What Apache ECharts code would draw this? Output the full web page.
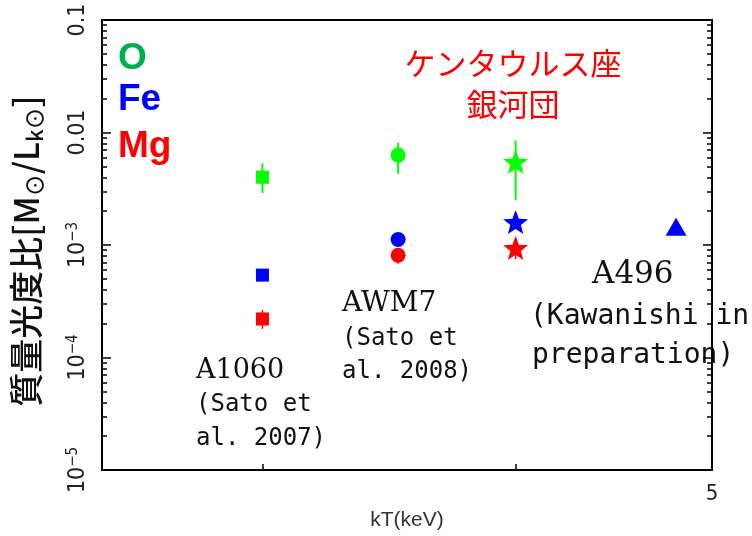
<!DOCTYPE html>
<html>
<head>
<meta charset="utf-8">
<script src="https://cdn.jsdelivr.net/npm/echarts@6/dist/echarts.min.js"></script>
<style>
  html, body { margin: 0; padding: 0; background: #fff; }
  #chart { width: 752px; height: 536px; }
</style>
</head>
<body>
<div id="chart"></div>
<script>
// Mass-to-light ratios of O, Fe and Mg against cluster temperature
const clusters = ['A1060', 'AWM7', 'Centaurus', 'A496'];
const kT = [3.0, 3.5, 4.0, 4.8];

const oxygen = [0.0040, 0.0063, 0.0055, null];
const oxygenLow = [0.0029, 0.0043, 0.0025, null];
const oxygenHigh = [0.0053, 0.0081, 0.0085, null];

const iron = [0.00054, 0.00112, 0.0016, 0.00145];

const magnesium = [0.00022, 0.00081, 0.00094, null];
const magnesiumLow = [0.00018, 0.00068, 0.00075, null];
const magnesiumHigh = [0.000265, 0.00091, 0.00115, null];

const xTicks = [3, 4, 5];
const xTickLabels = [5];
const yMajorTicks = [1e-5, 1e-4, 1e-3, 1e-2, 1e-1];
const yTickLabels = ['10^-5', '10^-4', '10^-3', '0.01', '0.1'];

// minor ticks at 2..9 within each decade
const yMinorTicks = [];
for (let e = -5; e < -1; e++) {
  for (let m = 2; m <= 9; m++) yMinorTicks.push(m * Math.pow(10, e));
}

// five-pointed star symbol
function starPath() {
  const pts = [];
  for (let i = 0; i < 10; i++) {
    const a = -Math.PI / 2 + i * Math.PI / 5;
    const r = i % 2 === 0 ? 50 : 21;
    pts.push((50 + r * Math.cos(a)).toFixed(2) + ' ' + (50 + r * Math.sin(a)).toFixed(2));
  }
  return 'path://M' + pts.join(' L') + ' Z';
}
const STAR = starPath();
const clusterSymbols = ['rect', 'circle', STAR, 'triangle'];
const clusterSizes = [13, 15, [25, 24], [21, 18]];

const GREEN = '#00ff00';
const BLUE = '#0000ff';
const RED = '#ff0000';
const NARROW = '"Liberation Sans Narrow", "DejaVu Sans Condensed", "Liberation Sans"';

function points(values) {
  const out = [];
  values.forEach((v, i) => {
    if (v != null) out.push({ value: [kT[i], v], symbol: clusterSymbols[i], symbolSize: clusterSizes[i] });
  });
  return out;
}
function bars(low, high) {
  const out = [];
  low.forEach((v, i) => { if (v != null) out.push([kT[i], low[i], high[i]]); });
  return out;
}
function errorSeries(low, high, color, width) {
  return {
    type: 'custom',
    z: 1,
    silent: true,
    data: bars(low, high),
    encode: { x: 0, y: [1, 2] },
    renderItem: function (params, api) {
      const p1 = api.coord([api.value(0), api.value(1)]);
      const p2 = api.coord([api.value(0), api.value(2)]);
      return {
        type: 'line',
        shape: { x1: p1[0], y1: p1[1], x2: p2[0], y2: p2[1] },
        style: { stroke: color, lineWidth: width }
      };
    }
  };
}

function yLabel(v) {
  const idx = yMajorTicks.findIndex(t => Math.abs(Math.log10(t) - Math.log10(v)) < 1e-6);
  if (idx < 0) return '';
  const s = yTickLabels[idx];
  if (s.indexOf('^') >= 0) {
    const parts = s.split('^');
    return '{b|' + parts[0] + '}{s|' + parts[1].replace('-', '\u2212') + '}';
  }
  return '{b|' + s + '}';
}

const labelRich = {
  b: { fontFamily: NARROW, fontSize: 23, color: '#222', lineHeight: 24 },
  s: { fontFamily: NARROW, fontSize: 15, color: '#222', verticalAlign: 'top', lineHeight: 15 }
};

function yAxisDef(position, ticks, length, withLabels) {
  return {
    type: 'log',
    logBase: 10,
    min: 1e-5,
    max: 0.1,
    position: position,
    axisLine: { show: true, lineStyle: { color: '#000', width: 2 } },
    axisTick: { show: true, inside: true, length: length, customValues: ticks, lineStyle: { color: '#000', width: 1.5 } },
    axisLabel: withLabels ? {
      show: true, rotate: 90, margin: 12, formatter: yLabel, rich: labelRich
    } : { show: false },
    splitLine: { show: false },
    minorTick: { show: false }
  };
}

const chart = echarts.init(document.getElementById('chart'));
const yLeft = yAxisDef('left', yMajorTicks, 9, true);
yLeft.name = '{t|質量光度比[M}{s|⊙}{t|/L}{s|k⊙}{t|]}';
yLeft.nameLocation = 'middle';
yLeft.nameRotate = 90;
yLeft.nameGap = 56;
yLeft.nameTextStyle = {
  padding: [0, 12, 0, 0],
  rich: {
    t: { fontFamily: 'Noto Sans CJK JP', fontWeight: 500, fontSize: 34, color: '#111', lineHeight: 40 },
    s: { fontFamily: 'Noto Sans CJK JP', fontWeight: 500, fontSize: 22, color: '#111', lineHeight: 26, verticalAlign: 'bottom' }
  }
};

chart.setOption({
  animation: false,
  grid: { left: 102, right: 40, top: 20, bottom: 61, show: true, borderColor: '#000', borderWidth: 2 },
  xAxis: {
    type: 'log',
    logBase: 10,
    min: 2.5,
    max: 5,
    name: 'kT(keV)',
    nameLocation: 'middle',
    nameGap: 40,
    nameTextStyle: { fontFamily: 'Liberation Sans', fontSize: 21, color: '#333' },
    axisLine: { show: true, lineStyle: { color: '#000', width: 2 } },
    axisTick: { show: true, inside: true, length: 6, customValues: xTicks, lineStyle: { color: '#000', width: 1.5 } },
    axisLabel: { show: true, customValues: xTickLabels, margin: 13, fontFamily: NARROW, fontSize: 22, color: '#222' },
    splitLine: { show: false }
  },
  yAxis: [
    yLeft,
    yAxisDef('left', yMinorTicks, 5, false),
    yAxisDef('right', yMajorTicks, 9, false),
    yAxisDef('right', yMinorTicks, 5, false)
  ],
  series: [
    errorSeries(oxygenLow, oxygenHigh, GREEN, 2),
    errorSeries(magnesiumLow, magnesiumHigh, RED, 1.5),
    { name: 'O', type: 'scatter', z: 3, data: points(oxygen), itemStyle: { color: GREEN, opacity: 1 } },
    { name: 'Fe', type: 'scatter', z: 3, data: points(iron), itemStyle: { color: BLUE, opacity: 1 } },
    { name: 'Mg', type: 'scatter', z: 3, data: points(magnesium), itemStyle: { color: RED, opacity: 1 } }
  ],
  graphic: [
    { type: 'text', x: 118, y: 59, style: { text: 'O', fill: '#00b050', font: 'bold 37px "Liberation Sans"', verticalAlign: 'middle' } },
    { type: 'text', x: 118, y: 100, style: { text: 'Fe', fill: BLUE, font: 'bold 37px "Liberation Sans"', verticalAlign: 'middle' } },
    { type: 'text', x: 118, y: 147, style: { text: 'Mg', fill: RED, font: 'bold 37px "Liberation Sans"', verticalAlign: 'middle' } },
    { type: 'text', x: 513, y: 63, style: { text: 'ケンタウルス座', fill: RED, font: '31px "Noto Sans CJK JP"', align: 'center', verticalAlign: 'middle' } },
    { type: 'text', x: 513, y: 104, style: { text: '銀河団', fill: RED, font: '31px "Noto Sans CJK JP"', align: 'center', verticalAlign: 'middle' } },

    { type: 'text', x: 196, y: 371, style: { text: 'A1060', fill: '#111', font: '27px "DejaVu Serif"', verticalAlign: 'middle' } },
    { type: 'text', x: 196, y: 405, style: { text: '(Sato et', fill: '#111', font: '24px "DejaVu Sans Mono"', verticalAlign: 'middle' } },
    { type: 'text', x: 196, y: 439, style: { text: 'al. 2007)', fill: '#111', font: '24px "DejaVu Sans Mono"', verticalAlign: 'middle' } },

    { type: 'text', x: 342, y: 304, style: { text: 'AWM7', fill: '#111', font: '28px "DejaVu Serif"', verticalAlign: 'middle' } },
    { type: 'text', x: 342, y: 339, style: { text: '(Sato et', fill: '#111', font: '24px "DejaVu Sans Mono"', verticalAlign: 'middle' } },
    { type: 'text', x: 342, y: 372, style: { text: 'al. 2008)', fill: '#111', font: '24px "DejaVu Sans Mono"', verticalAlign: 'middle' } },

    { type: 'text', x: 592, y: 275, style: { text: 'A496', fill: '#111', font: '31px "DejaVu Serif"', verticalAlign: 'middle' } },
    { type: 'text', x: 530, y: 317, style: { text: '(Kawanishi in', fill: '#111', font: '28px "DejaVu Sans Mono"', verticalAlign: 'middle' } },
    { type: 'text', x: 532, y: 356, style: { text: 'preparation)', fill: '#111', font: '28px "DejaVu Sans Mono"', verticalAlign: 'middle' } }
  ]
});
</script>
</body>
</html>
